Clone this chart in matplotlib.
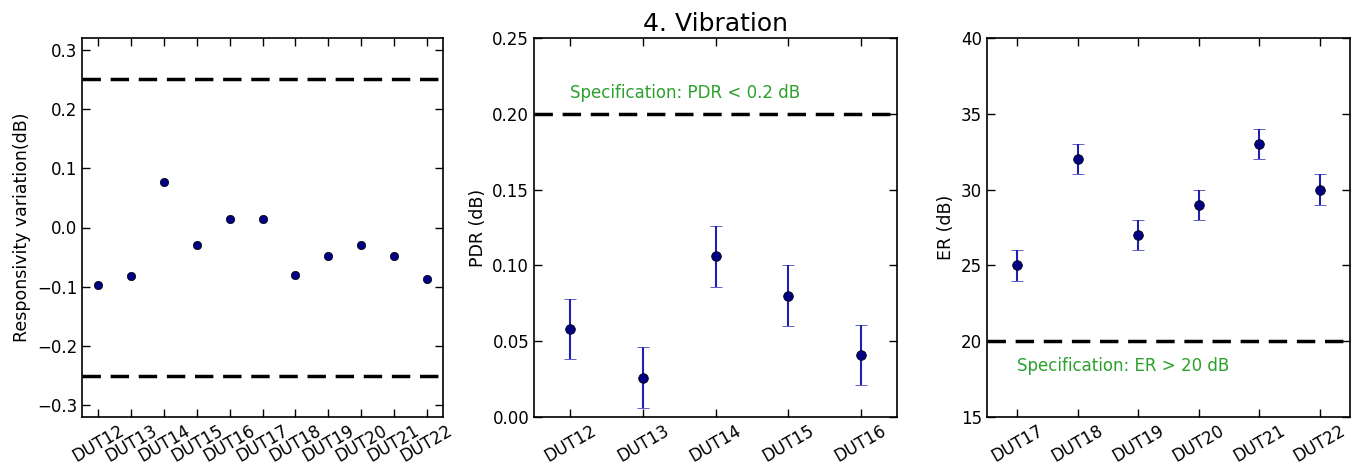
import numpy as np
import matplotlib.pyplot as plt

# panel 1: responsivity variation
resp_labels = ['DUT12', 'DUT13', 'DUT14', 'DUT15', 'DUT16', 'DUT17',
               'DUT18', 'DUT19', 'DUT20', 'DUT21', 'DUT22']
resp_vals = [-0.097, -0.082, 0.076, -0.029, 0.014, 0.014,
             -0.080, -0.048, -0.029, -0.048, -0.087]
resp_spec = [0.25, -0.25]

# panel 2: PDR
pdr_labels = ['DUT12', 'DUT13', 'DUT14', 'DUT15', 'DUT16']
pdr_vals = [0.058, 0.026, 0.106, 0.080, 0.041]
pdr_err = [0.02, 0.02, 0.02, 0.02, 0.02]
pdr_spec = 0.2

# panel 3: ER
er_labels = ['DUT17', 'DUT18', 'DUT19', 'DUT20', 'DUT21', 'DUT22']
er_vals = [25, 32, 27, 29, 33, 30]
er_err = [1, 1, 1, 1, 1, 1]
er_spec = 20

plt.rcParams['font.family'] = 'DejaVu Sans'
plt.rcParams['font.size'] = 12

fig = plt.figure(figsize=(13.63, 4.7), dpi=100)
W, H = 1363.0, 470.0
def add_ax(l, r, t, b):
    return fig.add_axes([l / W, 1 - b / H, (r - l) / W, (b - t) / H])

ax1 = add_ax(82, 443, 38, 417)
ax2 = add_ax(534, 897, 38, 417)
ax3 = add_ax(987, 1350, 38, 417)

green = '#2ca02c'
ebar = '#2020b0'
dash = (5.3, 2.8)

def style(ax, labels):
    ax.set_xticks(range(len(labels)))
    ax.set_xticklabels(labels, rotation=30, ha='center')
    ax.tick_params(direction='in', top=True, right=True, length=6, width=1,
                   labelsize=12)
    for s in ax.spines.values():
        s.set_linewidth(1.2)
    ax.set_xlim(-0.5, len(labels) - 0.5)

# panel 1
x1 = np.arange(len(resp_labels))
ax1.plot(x1, resp_vals, 'o', color='navy', mec='black', mew=0.5, ms=6)
for v in resp_spec:
    ax1.axhline(v, color='black', ls='--', lw=2.5, dashes=dash)
style(ax1, resp_labels)
ax1.set_ylim(-0.32, 0.32)
ax1.set_yticks([-0.3, -0.2, -0.1, 0.0, 0.1, 0.2, 0.3])
ax1.set_yticklabels(['\u22120.3', '\u22120.2', '\u22120.1', '0.0', '0.1', '0.2', '0.3'])
ax1.set_ylabel('Responsivity variation(dB)', fontsize=12.5)

# panel 2
x2 = np.arange(len(pdr_labels))
ax2.errorbar(x2, pdr_vals, yerr=pdr_err, fmt='o', color='navy', mec='black',
             mew=0.5, ms=7, ecolor=ebar, elinewidth=1.5, capsize=4, capthick=1.5)
ax2.axhline(pdr_spec, color='black', ls='--', lw=2.5, dashes=dash)
ax2.text(0, 0.2138, 'Specification: PDR < 0.2 dB', color=green, fontsize=12,
         ha='left', va='center')
style(ax2, pdr_labels)
ax2.set_ylim(0, 0.25)
ax2.set_yticks([0.0, 0.05, 0.10, 0.15, 0.20, 0.25])
ax2.set_yticklabels(['0.00', '0.05', '0.10', '0.15', '0.20', '0.25'])
ax2.set_ylabel('PDR (dB)', fontsize=12.5)
ax2.set_title('4. Vibration', fontsize=18, pad=5)

# panel 3
x3 = np.arange(len(er_labels))
ax3.errorbar(x3, er_vals, yerr=er_err, fmt='o', color='navy', mec='black',
             mew=0.5, ms=7, ecolor=ebar, elinewidth=1.5, capsize=4, capthick=1.5)
ax3.axhline(er_spec, color='black', ls='--', lw=2.5, dashes=dash)
ax3.text(0, 18.35, 'Specification: ER > 20 dB', color=green, fontsize=12,
         ha='left', va='center')
style(ax3, er_labels)
ax3.set_ylim(15, 40)
ax3.set_yticks([15, 20, 25, 30, 35, 40])
ax3.set_ylabel('ER (dB)', fontsize=12.5)

fig.savefig('out.png', dpi=100, facecolor='white')
